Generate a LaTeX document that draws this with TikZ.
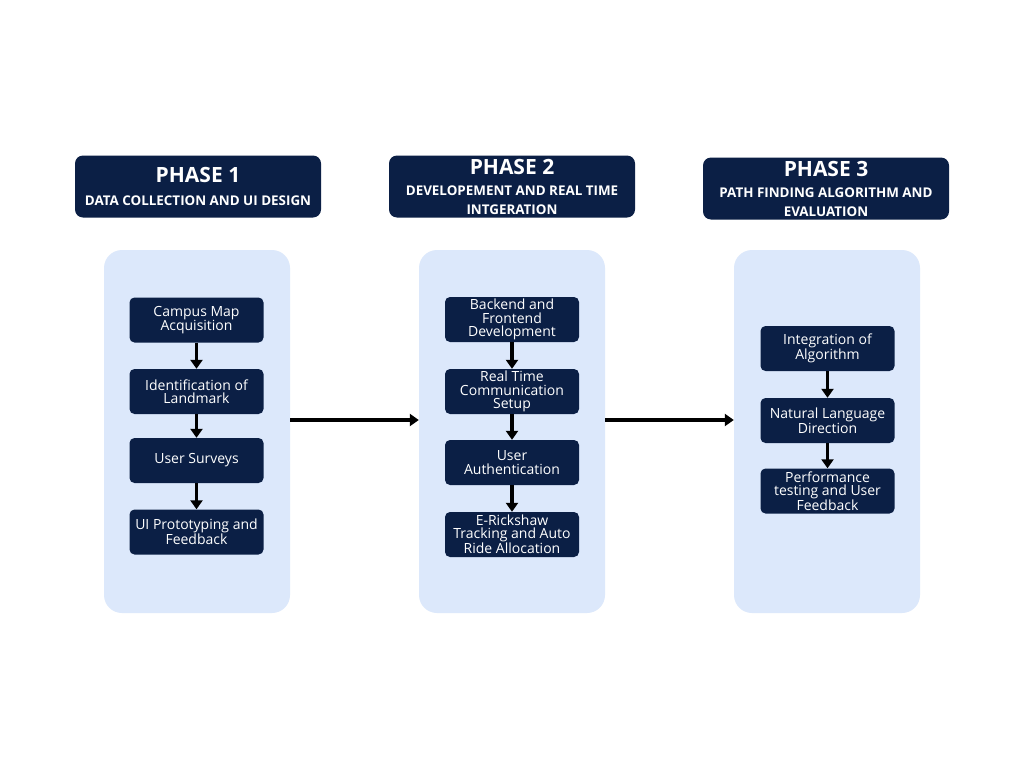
\documentclass[tikz,border=0pt]{standalone}
\usepackage{fontspec}
\setmainfont{Open Sans}
\usetikzlibrary{arrows.meta,positioning}
\definecolor{PhaseNavy}{HTML}{0B1F45}
\definecolor{PanelBlue}{HTML}{DCE8FB}

\begin{document}
\begin{tikzpicture}[x=1pt,y=-1pt,
    header/.style={fill=PhaseNavy,rounded corners=8pt,minimum width=246pt,minimum height=62pt,
      inner sep=0pt,text=white,align=center,font=\fontsize{13.4}{19}\selectfont\bfseries},
    panel/.style={fill=PanelBlue,rounded corners=18pt,minimum width=186pt,minimum height=363pt,inner sep=0pt},
    stepbox/.style={fill=PhaseNavy,rounded corners=5pt,minimum width=134pt,minimum height=45pt,
      inner sep=0pt,text=white,align=center,font=\fontsize{14}{13.4}\selectfont},
    flow/.style={-{Triangle[length=9pt,width=12pt]},line width=3.2pt}]
  \fill[white] (0,0) rectangle (1024,768);
  \useasboundingbox (0,0) rectangle (1024,768);

  % phase headers
  \node[header] (h1) at (198,186.5) {{\fontsize{21}{21}\selectfont PHASE 1}\\[4pt]DATA COLLECTION AND UI DESIGN};
  \node[header] (h2) at (512,186.5) {{\fontsize{21}{21}\selectfont PHASE 2}\\[2pt]DEVELOPEMENT AND REAL TIME\\INTGERATION};
  \node[header] (h3) at (826,188.5) {{\fontsize{21}{21}\selectfont PHASE 3}\\[2pt]PATH FINDING ALGORITHM AND\\EVALUATION};

  % panels
  \node[panel] (p1) at (197,431.5) {};
  \node[panel] (p2) at (512,431.5) {};
  \node[panel] (p3) at (827,431.5) {};

  % phase 1 steps
  \node[stepbox] (a1) at (196.5,320) {Campus Map\\Acquisition};
  \node[stepbox] (a2) at (196.5,391.5) {Identification of\\Landmark};
  \node[stepbox] (a3) at (196.5,460.5) {User Surveys};
  \node[stepbox] (a4) at (196.5,532) {UI Prototyping and\\Feedback};

  % phase 2 steps
  \node[stepbox] (b1) at (512,319.5) {Backend and\\Frontend\\Development};
  \node[stepbox] (b2) at (512,391.5) {Real Time\\Communication\\Setup};
  \node[stepbox] (b3) at (512,462.5) {User\\Authentication};
  \node[stepbox] (b4) at (512,534.5) {E-Rickshaw\\Tracking and Auto\\Ride Allocation};

  % phase 3 steps
  \node[stepbox] (c1) at (827.5,348.5) {Integration of\\Algorithm};
  \node[stepbox] (c2) at (827.5,420.5) {Natural Language\\Direction};
  \node[stepbox] (c3) at (827.5,491) {Performance\\testing and User\\Feedback};

  \draw[flow] (a1) -- (a2);
  \draw[flow] (a2) -- (a3);
  \draw[flow] (a3) -- (a4);
  \draw[flow] (b1) -- (b2);
  \draw[flow] (b2) -- (b3);
  \draw[flow] (b3) -- (b4);
  \draw[flow] (c1) -- (c2);
  \draw[flow] (c2) -- (c3);

  % between phases
  \draw[flow] ([yshift=11.5pt]p1.east) -- ([yshift=11.5pt]p2.west);
  \draw[flow] ([yshift=11.5pt]p2.east) -- ([yshift=11.5pt]p3.west);
\end{tikzpicture}
\end{document}
